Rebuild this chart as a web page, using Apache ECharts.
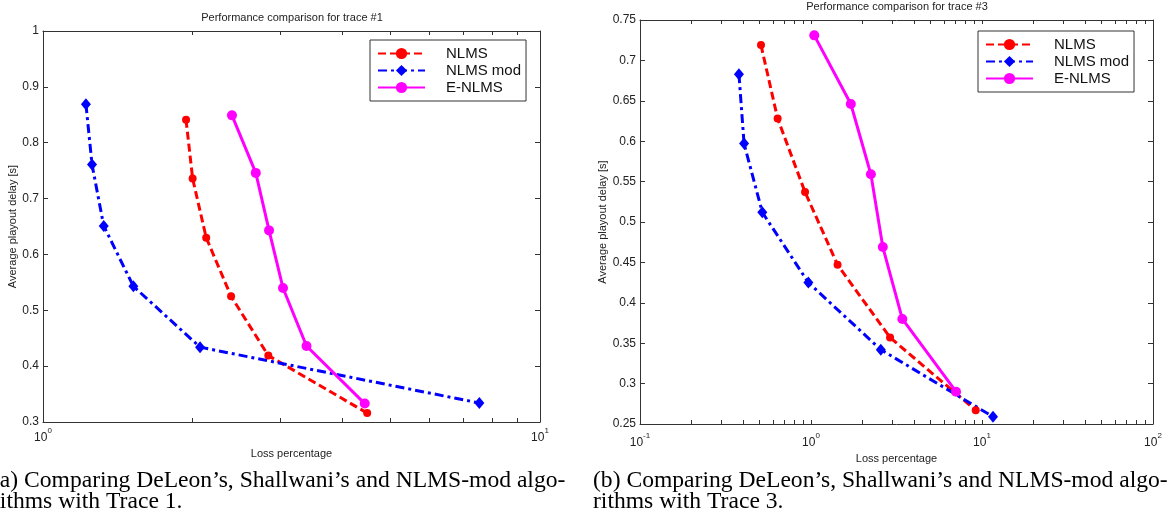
<!DOCTYPE html>
<html lang="en">
<head>
  <meta charset="UTF-8">
  <title>Performance comparison for trace #1 and #3</title>
  <style>
    html, body { margin: 0; padding: 0; background: #fff; }
  </style>
</head>
<body>
  <div id="chart" style="width: 1168px;height: 518px;"></div>
</body>
<script src="https://cdn.jsdelivr.net/npm/echarts@6/dist/echarts.min.js"></script>
<script>
  // trace #1 : loss percentage / average playout delay
  var t1NlmsLoss = [1.94, 2.00, 2.13, 2.39, 2.84, 4.49];
  var t1NlmsDelay = [0.841, 0.736, 0.630, 0.525, 0.419, 0.316];
  var t1ModLoss = [1.22, 1.255, 1.325, 1.52, 2.07, 7.55];
  var t1ModDelay = [0.869, 0.761, 0.651, 0.543, 0.434, 0.334];
  var t1ENlmsLoss = [2.40, 2.68, 2.85, 3.04, 3.39, 4.44];
  var t1ENlmsDelay = [0.849, 0.746, 0.643, 0.540, 0.436, 0.333];

  // trace #3
  var t3NlmsLoss = [0.51, 0.638, 0.923, 1.43, 2.90, 9.19];
  var t3NlmsDelay = [0.719, 0.628, 0.537, 0.447, 0.357, 0.267];
  var t3ModLoss = [0.379, 0.406, 0.519, 0.965, 2.56, 11.6];
  var t3ModDelay = [0.683, 0.597, 0.512, 0.425, 0.342, 0.259];
  var t3ENlmsLoss = [1.045, 1.71, 2.24, 2.63, 3.42, 7.05];
  var t3ENlmsDelay = [0.731, 0.646, 0.559, 0.469, 0.380, 0.290];

  var seriesNames = ['NLMS', 'NLMS mod', 'E-NLMS'];

  // tick values on the log axes
  var t1XTicks = [1, 2, 3, 4, 5, 6, 7, 8, 9, 10];
  var t1XLabels = [1, 10];
  var t3XTicks = [0.1, 0.2, 0.3, 0.4, 0.5, 0.6, 0.7, 0.8, 0.9,
                  1, 2, 3, 4, 5, 6, 7, 8, 9,
                  10, 20, 30, 40, 50, 60, 70, 80, 90, 100];
  var t3XLabels = [0.1, 1, 10, 100];

  var captionA = '(a) Comparing DeLeon\u2019s, Shallwani\u2019s and NLMS-mod algo-\nrithms with Trace 1.';
  var captionB = '(b) Comparing DeLeon\u2019s, Shallwani\u2019s and NLMS-mod algo-\nrithms with Trace 3.';

  function pairs(xs, ys) {
    return xs.map(function (x, i) { return [x, ys[i]]; });
  }

  var axisColor = '#333';
  var sans = 'Liberation Sans, Arial, sans-serif';

  function logAxis(grid, pos, min, max, ticks, labels, labelMargin) {
    var ax = {
      type: 'log', logBase: 10, gridIndex: grid, position: pos, min: min, max: max,
      axisLine: { show: true, lineStyle: { color: axisColor, width: 1 } },
      axisTick: { show: true, inside: true, length: 4, customValues: ticks, lineStyle: { color: axisColor } },
      splitLine: { show: false },
      axisLabel: { show: false }
    };
    if (labels) {
      ax.axisLabel = {
        show: true, customValues: labels, margin: labelMargin,
        formatter: function (v) {
          var e = Math.round(Math.log(v) / Math.LN10);
          return '{b|10}{s|' + e + '}';
        },
        rich: {
          b: { fontSize: 12, fontFamily: sans, color: '#222', verticalAlign: 'bottom', lineHeight: 17 },
          s: { fontSize: 8, fontFamily: sans, color: '#222', verticalAlign: 'top', lineHeight: 17 }
        }
      };
      ax.name = 'Loss percentage';
      ax.nameLocation = 'middle';
      ax.nameGap = 22;
      ax.nameTextStyle = { fontSize: 11, fontFamily: sans, color: '#222' };
    }
    return ax;
  }

  function valAxis(grid, pos, min, max, step, showLabels, nameGap) {
    var ax = {
      type: 'value', gridIndex: grid, position: pos, min: min, max: max, interval: step,
      axisLine: { show: true, lineStyle: { color: axisColor, width: 1 } },
      axisTick: { show: true, inside: true, length: 5, lineStyle: { color: axisColor } },
      splitLine: { show: false },
      axisLabel: { show: showLabels, margin: 4, fontSize: 12, fontFamily: sans, color: '#222' }
    };
    if (showLabels) {
      ax.name = 'Average playout delay [s]';
      ax.nameLocation = 'middle';
      ax.nameGap = nameGap;
      ax.nameTextStyle = { fontSize: 11, fontFamily: sans, color: '#222' };
    }
    return ax;
  }

  function makeSeries(xi, lists) {
    return [
      {
        name: seriesNames[0], type: 'line', xAxisIndex: xi, yAxisIndex: xi,
        data: lists[0], symbol: 'circle', symbolSize: 8,
        itemStyle: { color: '#ff0000' },
        lineStyle: { color: '#ff0000', width: 3, type: [8, 4] }
      },
      {
        name: seriesNames[1], type: 'line', xAxisIndex: xi, yAxisIndex: xi,
        data: lists[1], symbol: 'diamond', symbolSize: [10, 12],
        itemStyle: { color: '#0000ff' },
        lineStyle: { color: '#0000ff', width: 3, type: [9, 4, 3, 4] }
      },
      {
        name: seriesNames[2], type: 'line', xAxisIndex: xi, yAxisIndex: xi,
        data: lists[2], symbol: 'circle', symbolSize: 10,
        itemStyle: { color: '#ff00ff' },
        lineStyle: { color: '#ff00ff', width: 3, type: 'solid' }
      }
    ];
  }

  function legendBox(left, top) {
    return {
      data: seriesNames.slice(),
      orient: 'vertical', left: left, top: top,
      itemWidth: 47, itemHeight: 14, itemGap: 2,
      padding: [6, 5, 6, 7],
      borderColor: '#333', borderWidth: 1, borderRadius: 0,
      backgroundColor: '#fff',
      selectedMode: false,
      textStyle: { fontSize: 15, fontFamily: sans, color: '#111', padding: [0, 0, 0, 16] }
    };
  }

  var myChart = echarts.init(document.getElementById('chart'));

  var series = []
    .concat(makeSeries(0, [pairs(t1NlmsLoss, t1NlmsDelay), pairs(t1ModLoss, t1ModDelay), pairs(t1ENlmsLoss, t1ENlmsDelay)]))
    .concat(makeSeries(2, [pairs(t3NlmsLoss, t3NlmsDelay), pairs(t3ModLoss, t3ModDelay), pairs(t3ENlmsLoss, t3ENlmsDelay)]));

  myChart.setOption({
    animation: false,
    backgroundColor: '#fff',
    title: [
      {
        text: 'Performance comparison for trace #1', left: 292, top: 12, textAlign: 'center', padding: 0,
        textStyle: { fontSize: 11, fontWeight: 'normal', fontFamily: sans, color: '#222' }
      },
      {
        text: 'Performance comparison for trace #3', left: 897, top: 1, textAlign: 'center', padding: 0,
        textStyle: { fontSize: 11, fontWeight: 'normal', fontFamily: sans, color: '#222' }
      }
    ],
    legend: [legendBox(370, 40), legendBox(978, 31)],
    grid: [
      { left: 43, right: 628, top: 31, bottom: 96 },
      { left: 640, right: 15, top: 20, bottom: 94 }
    ],
    xAxis: [
      logAxis(0, 'bottom', 1, 10, t1XTicks, t1XLabels, 5),
      logAxis(0, 'top', 1, 10, t1XTicks, null),
      logAxis(1, 'bottom', 0.1, 100, t3XTicks, t3XLabels, 8),
      logAxis(1, 'top', 0.1, 100, t3XTicks, null)
    ],
    yAxis: [
      valAxis(0, 'left', 0.3, 1, 0.1, true, 22),
      valAxis(0, 'right', 0.3, 1, 0.1, false),
      valAxis(1, 'left', 0.25, 0.75, 0.05, true, 29),
      valAxis(1, 'right', 0.25, 0.75, 0.05, false)
    ],
    series: series,
    graphic: [
      {
        type: 'text', x: -8, y: 470,
        style: { text: captionA, font: '23.6px "Liberation Serif", "Times New Roman", serif', fill: '#000', lineHeight: 21 }
      },
      {
        type: 'text', x: 593, y: 470,
        style: { text: captionB, font: '23.6px "Liberation Serif", "Times New Roman", serif', fill: '#000', lineHeight: 21 }
      }
    ]
  });
</script>
</html>
